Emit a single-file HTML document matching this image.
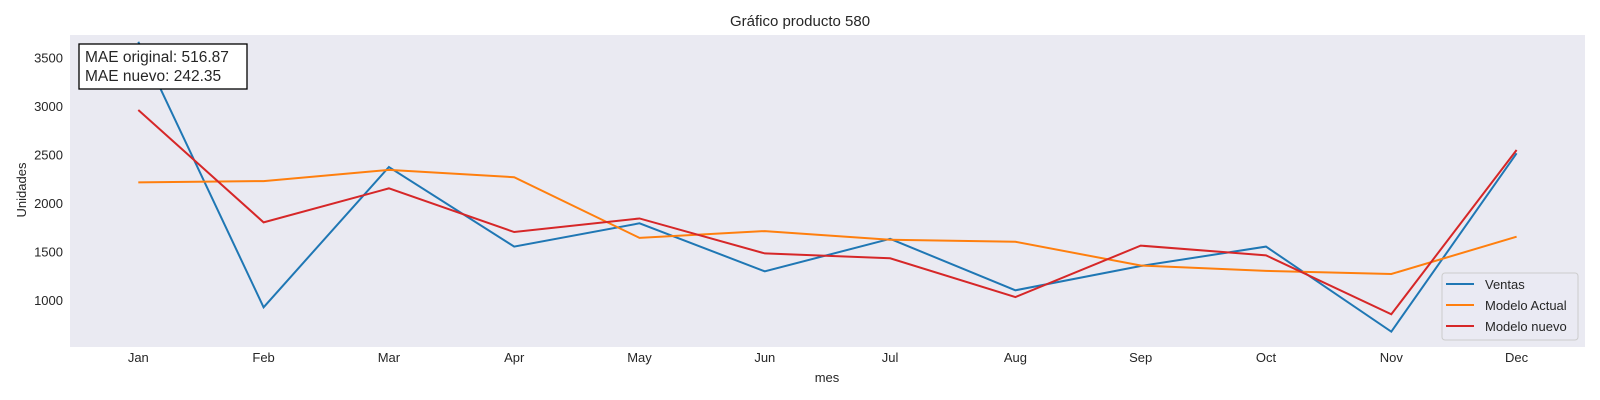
<!DOCTYPE html>
<html><head><meta charset="utf-8"><style>
body{margin:0;background:#fff;}
svg{display:block;font-family:"Liberation Sans","DejaVu Sans",sans-serif;}
</style></head><body>
<svg id="chart" width="1600" height="400">
<rect x="70" y="35" width="1515" height="312" fill="#eaeaf2"/>
<text x="800" y="26" text-anchor="middle" font-size="15" fill="#262626">Gráfico producto 580</text>
<text x="827" y="382" text-anchor="middle" font-size="13" fill="#262626">mes</text>
<text transform="translate(26,190) rotate(-90)" text-anchor="middle" font-size="13" fill="#262626">Unidades</text>
<g id="yticks"></g><g id="xticks"></g><g id="lines"></g>
<g>
<rect x="79" y="44" width="168" height="45" fill="#fff" stroke="#000" stroke-width="1.3"/>
<text x="85" y="62" font-size="15.5" fill="#262626">MAE original: 516.87</text>
<text x="85" y="81" font-size="15.5" fill="#262626">MAE nuevo: 242.35</text>
</g>
<g id="legend">
<rect x="1442" y="273" width="136" height="67" rx="3" fill="#eaeaf2" fill-opacity="0.8" stroke="#cccccc"/>
</g>
</svg>
<script>
const months=["Jan","Feb","Mar","Apr","May","Jun","Jul","Aug","Sep","Oct","Nov","Dec"];
const yTicks=[1000,1500,2000,2500,3000,3500];
const ventas=[3660,925,2370,1550,1790,1295,1630,1100,1350,1550,674,2511];
const modeloActual=[2212,2225,2340,2265,1640,1710,1620,1600,1355,1300,1268,1652];
const modeloNuevo=[2957,1800,2150,1700,1840,1480,1430,1030,1560,1460,853,2545];
const seriesNames=["Ventas","Modelo Actual","Modelo nuevo"];
const ns="http://www.w3.org/2000/svg";
const xs=i=>138.3+i*125.3;
const ys=v=>300-(v-1000)*0.09708;
const yt=document.getElementById('yticks');
yTicks.forEach(v=>{const t=document.createElementNS(ns,'text');


t.setAttribute('x',63);t.setAttribute('y',ys(v)+5);t.setAttribute('text-anchor','end');t.setAttribute('font-size','13');t.setAttribute('fill','#262626');t.textContent=v;yt.appendChild(t);});
const xt=document.getElementById('xticks');
months.forEach((m,i)=>{const t=document.createElementNS(ns,'text');


t.setAttribute('x',xs(i));t.setAttribute('y',362);t.setAttribute('text-anchor','middle');t.setAttribute('font-size','13');t.setAttribute('fill','#262626');t.textContent=m;xt.appendChild(t);});
const clip=document.createElementNS(ns,'clipPath');clip.id='pc';
const cr=document.createElementNS(ns,'rect');cr.setAttribute('x',70);cr.setAttribute('y',35);cr.setAttribute('width',1515);cr.setAttribute('height',312);clip.appendChild(cr);
document.getElementById('chart').appendChild(clip);
const lg=document.getElementById('lines');lg.setAttribute('clip-path','url(#pc)');
const data=[ventas,modeloActual,modeloNuevo],cols=["#1f77b4","#ff7f0e","#d62728"];
data.forEach((d,k)=>{const p=document.createElementNS(ns,'polyline');


p.setAttribute('points',d.map((v,i)=>xs(i)+','+ys(v)).join(' '));p.setAttribute('fill','none');p.setAttribute('stroke',cols[k]);p.setAttribute('stroke-width','2');lg.appendChild(p);});
const leg=document.getElementById('legend');
seriesNames.forEach((n,k)=>{const y=284+k*21;
const l=document.createElementNS(ns,'line');


l.setAttribute('x1',1446);l.setAttribute('x2',1474);l.setAttribute('y1',y);l.setAttribute('y2',y);l.setAttribute('stroke',cols[k]);l.setAttribute('stroke-width','2');leg.appendChild(l);
const t=document.createElementNS(ns,'text');


t.setAttribute('x',1485);t.setAttribute('y',y+5);t.setAttribute('font-size','13');t.setAttribute('fill','#262626');t.textContent=n;leg.appendChild(t);});
</script>
</body></html>
